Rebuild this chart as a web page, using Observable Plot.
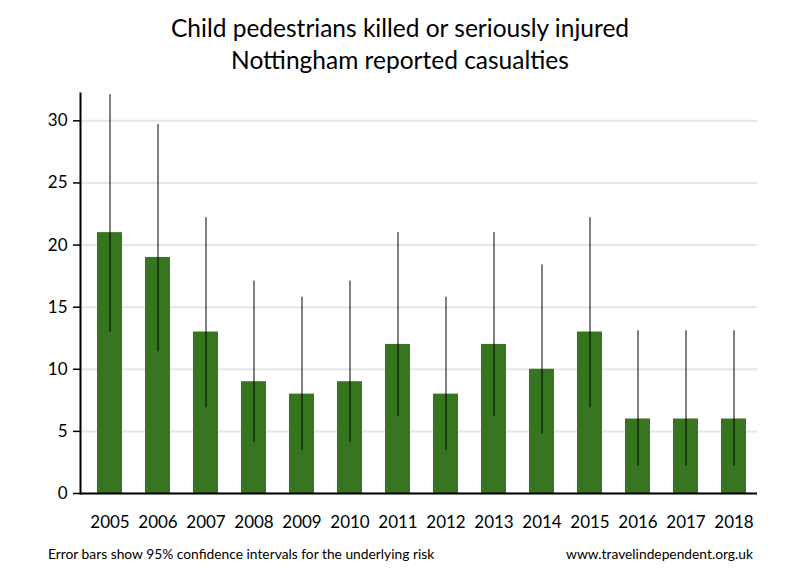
<!DOCTYPE html>
<html>
<head>
<meta charset="utf-8">
<script src="https://cdn.jsdelivr.net/npm/d3@7"></script>
<script src="https://cdn.jsdelivr.net/npm/@observablehq/plot@0.6"></script>
<style>
  body { margin: 0; background: #fff; font-family: Lato, "Open Sans", sans-serif; }
  #wrap { width: 800px; height: 580px; position: relative; }
  #title { position: absolute; left: 0; top: 12px; width: 800px; text-align: center; font-size: 24.5px; line-height: 32px; color: #000; }
  #chart { position: absolute; left: 0; top: 80px; }
  #note { position: absolute; left: 48px; top: 545px; font-size: 13.8px; color: #000; }
  #src { position: absolute; right: 47px; top: 545px; font-size: 13.8px; color: #000; }
</style>
</head>
<body>
<div id="wrap">
  <div id="title">Child pedestrians killed or seriously injured<br>Nottingham reported casualties</div>
  <div id="chart"></div>
  <div id="note">Error bars show 95% confidence intervals for the underlying risk</div>
  <div id="src">www.travelindependent.org.uk</div>
</div>
<script>
const years = ["2005","2006","2007","2008","2009","2010","2011","2012","2013","2014","2015","2016","2017","2018"];
const casualties = [21, 19, 13, 9, 8, 9, 12, 8, 12, 10, 13, 6, 6, 6];
const ciLower = [13.0, 11.4, 6.9, 4.1, 3.45, 4.1, 6.2, 3.45, 6.2, 4.8, 6.9, 2.2, 2.2, 2.2];
const ciUpper = [32.1, 29.7, 22.2, 17.1, 15.8, 17.1, 21.0, 15.8, 21.0, 18.4, 22.2, 13.1, 13.1, 13.1];
const yTicks = [0, 5, 10, 15, 20, 25, 30];

const data = years.map((y, i) => ({year: y, value: casualties[i], lo: ciLower[i], hi: ciUpper[i]}));

const chart = Plot.plot({
  width: 800,
  height: 460,
  marginLeft: 80,
  marginRight: 43,
  marginTop: 13,
  marginBottom: 47,
  style: {fontFamily: "Lato, 'Open Sans', sans-serif", fontSize: "17px", color: "#000", background: "#fff"},
  x: {type: "band", domain: years, range: [85.5, 757.5], paddingInner: 0.48, paddingOuter: 0.24, align: 0.5, label: null},
  y: {domain: [0, 32.2], label: null},
  marks: [
    Plot.gridY(yTicks, {stroke: "#e6e6e6", strokeOpacity: 1, strokeWidth: 2}),
    Plot.barY(data, {x: "year", y: "value", fill: "#377521"}),
    Plot.ruleX(data, {x: "year", y1: "lo", y2: "hi", stroke: "#000", strokeWidth: 1}),
    Plot.axisY(yTicks, {tickSize: 7, tickPadding: 6, stroke: "#000", strokeWidth: 1.5, fontSize: 17, label: null}),
    Plot.axisX({tickSize: 0, tickPadding: 22, fontSize: 17, label: null}),
    Plot.frame({anchor: "left", stroke: "#000", strokeWidth: 2}),
    Plot.ruleY([0], {stroke: "#000", strokeWidth: 2})
  ]
});
document.getElementById("chart").appendChild(chart);
</script>
</body>
</html>
